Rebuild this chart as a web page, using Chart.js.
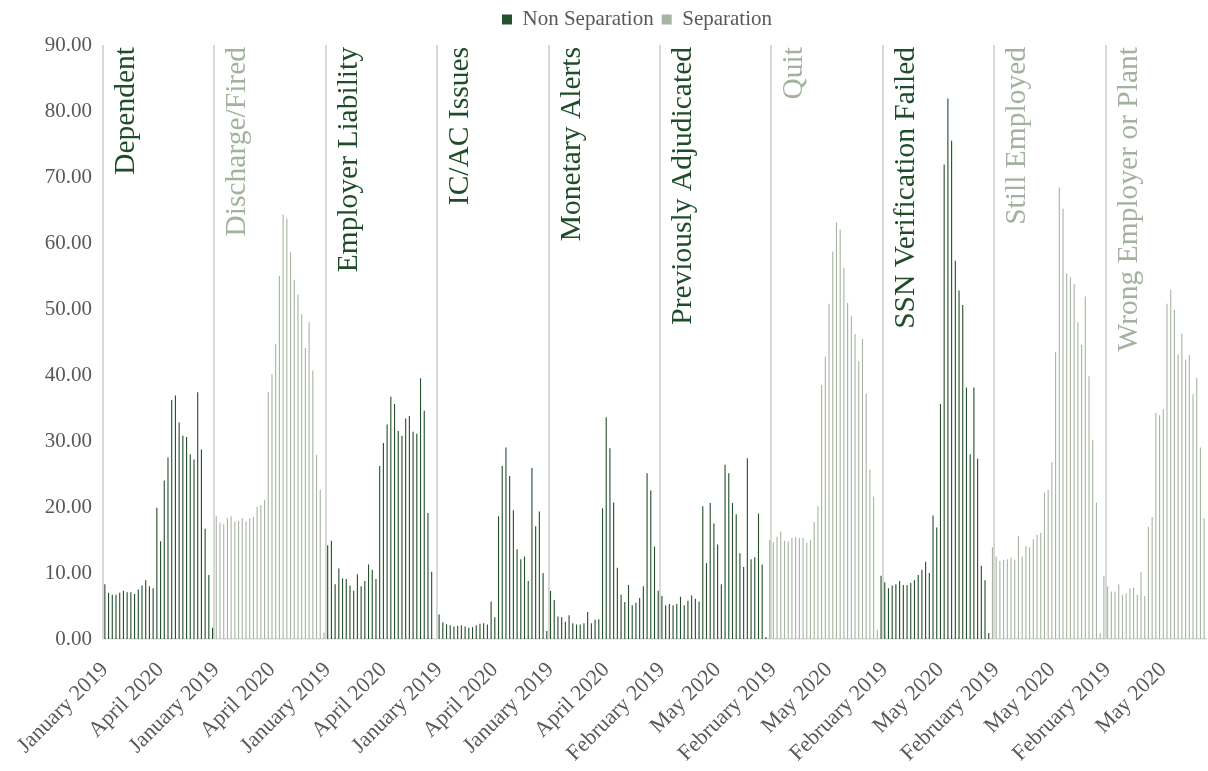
<!DOCTYPE html>
<html><head><meta charset="utf-8">
<script src="https://cdn.jsdelivr.net/npm/chart.js@4.4.1/dist/chart.umd.min.js"></script>
<style>html,body{margin:0;padding:0;background:#fff;overflow:hidden}#wrap{width:1208px;height:771px;position:relative}</style>
</head><body><div id="wrap"><canvas id="c"></canvas></div>
<script>
const MONTHS = ['January','February','March','April','May','June','July','August','September','October','November','December'];
const seriesNames = ['Non Separation', 'Separation'];
const seriesColors = ['#24502c', '#a7b5a2'];
const panelNames = ['Dependent','Discharge/Fired','Employer Liability','IC/AC Issues','Monetary Alerts','Previously Adjudicated','Quit','SSN Verification Failed','Still Employed','Wrong Employer or Plant'];
const panelSeries = [0,1,0,0,0,0,1,0,1,1];
const panelStartMonth = [0,0,0,0,0,1,0,0,0,0]; // months after January 2019
const tickLabelEvery = 15;
const gridEvery = 30;

const dependent = [8.3,7.0,6.7,6.7,7.0,7.3,7.1,7.1,6.8,7.5,8.1,8.9,8.0,7.7,19.9,14.8,24.0,27.5,36.2,36.9,32.8,30.8,30.6,28.0,27.2,37.4,28.7,16.7,9.7,1.7];
const dischargeFired = [18.6,17.6,17.4,18.3,18.6,17.8,17.9,18.3,17.8,18.3,18.5,20.0,20.3,21.1,37.4,40.1,44.7,55.0,64.3,63.7,58.6,54.4,52.2,49.2,44.1,48.0,40.7,27.9,22.6,1.0];
const employerLiability = [14.2,14.9,8.3,10.7,9.2,9.1,8.1,7.3,9.8,8.0,8.8,11.3,10.5,9.1,26.2,29.7,32.5,36.7,35.6,31.5,30.8,33.4,33.8,31.4,31.1,39.5,34.6,19.1,10.2,0];
const icacIssues = [3.7,2.5,2.2,2.1,1.9,2.0,2.1,1.9,1.7,1.8,2.1,2.3,2.4,2.2,5.7,3.3,18.6,26.2,29.0,24.7,19.5,13.6,12.1,12.5,8.8,25.9,17.1,19.3,10.0,1.2];
const monetaryAlerts = [7.3,5.9,3.4,3.3,2.6,3.6,2.4,2.2,2.2,2.4,4.1,2.4,2.9,3.0,19.8,33.6,28.9,20.7,10.8,6.7,5.6,8.2,5.1,5.5,6.2,8.0,25.1,22.5,14.0,7.3];
const previouslyAdjudicated = [6.5,5.1,5.3,5.1,5.3,6.4,5.1,5.8,6.6,6.1,5.7,20.1,11.5,20.6,17.5,14.3,8.3,26.4,25.1,20.6,18.9,13.0,10.9,27.4,12.1,12.4,19.0,11.3,0.3];
const quit = [15.0,14.7,15.5,16.3,14.9,14.8,15.3,15.4,15.3,15.3,14.6,15.0,17.7,20.1,38.5,42.8,50.8,58.7,63.1,62.0,56.2,50.9,48.9,46.2,42.1,45.5,37.2,25.7,21.6,1.4];
const ssnVerificationFailed = [9.6,8.6,7.7,8.1,8.3,8.8,8.2,8.2,8.5,8.9,9.7,10.5,11.7,10.0,18.7,16.9,35.6,71.9,81.9,75.5,57.3,52.8,50.6,38.1,28.0,38.1,27.3,11.1,8.9,0.9];
const stillEmployed = [13.9,12.5,11.8,12.0,12.1,12.3,12.0,15.6,12.5,14.1,13.9,15.1,15.8,16.1,22.2,22.6,26.8,43.5,68.4,65.2,55.4,54.8,53.8,48.0,44.6,51.9,39.8,30.1,20.7,0.9];
const wrongEmployerOrPlant = [9.6,8.0,7.2,7.2,8.3,6.7,6.9,7.7,7.8,6.7,10.1,6.5,17.0,18.5,34.3,33.9,34.8,50.8,52.9,49.9,43.1,46.3,42.3,43.0,37.1,39.6,29.0,18.3];

const panelValues = [dependent, dischargeFired, employerLiability, icacIssues, monetaryAlerts,
  previouslyAdjudicated, quit, ssnVerificationFailed, stillEmployed, wrongEmployerOrPlant];

const categories = [], nonSeparation = [], separation = [];
panelValues.forEach((vals, p) => {
  vals.forEach((v, i) => {
    const m = panelStartMonth[p] + i;
    categories.push(MONTHS[m % 12] + ' ' + (2019 + Math.floor(m / 12)));
    nonSeparation.push(panelSeries[p] === 0 ? v : null);
    separation.push(panelSeries[p] === 1 ? v : null);
  });
});

const FONT = "'Liberation Serif', 'Times New Roman', serif";

const panelLabelPlugin = {
  id: 'panelLabels',
  afterLayout(chart) {
    const lg = chart.legend;
    if (lg) { lg.left += 34; lg.right += 34; lg.top -= 5; lg.bottom -= 5; }
  },
  afterDatasetsDraw(chart) {
    const xs = chart.scales.x, area = chart.chartArea, ctx = chart.ctx;
    const half = (xs.getPixelForValue(1) - xs.getPixelForValue(0)) / 2;
    ctx.save();
    ctx.font = '29.5px ' + FONT;
    ctx.textAlign = 'right';
    ctx.textBaseline = 'alphabetic';
    panelNames.forEach((name, p) => {
      const x = xs.getPixelForValue(p * gridEvery) - half + 31;
      ctx.save();
      ctx.translate(x, area.top + 2);
      ctx.rotate(-Math.PI / 2);
      ctx.fillStyle = panelSeries[p] === 0 ? '#1f4d2a' : '#a3b29f';
      ctx.fillText(name, 0, 0);
      ctx.restore();
    });
    ctx.restore();
  }
};

new Chart(document.getElementById('c'), {
  type: 'bar',
  data: {
    labels: categories,
    datasets: [
      { label: seriesNames[0], data: nonSeparation, backgroundColor: seriesColors[0] },
      { label: seriesNames[1], data: separation, backgroundColor: seriesColors[1] }
    ]
  },
  options: {
    responsive: true,
    maintainAspectRatio: false,
    animation: false,
    devicePixelRatio: 1,
    datasets: { bar: { grouped: false, barPercentage: 0.3, categoryPercentage: 1.0 } },
    layout: { padding: { left: 0, right: 2, top: 6, bottom: 0 } },
    plugins: {
      legend: {
        position: 'top',
        labels: { font: { family: FONT, size: 21 }, color: '#595959', boxWidth: 10, boxHeight: 10, padding: 8 }
      },
      tooltip: { enabled: false }
    },
    scales: {
      x: {
        offset: true,
        grid: {
          offset: true,
          drawTicks: false,
          lineWidth: 2,
          color: ctx => (ctx.index % gridEvery === 0 ? '#d9d9d9' : 'rgba(0,0,0,0)')
        },
        border: { color: '#d9d9d9', width: 1.5 },
        ticks: {
          autoSkip: false, maxRotation: 45, minRotation: 45, padding: 18,
          font: { family: FONT, size: 22 }, color: '#595959',
          callback: (v, i) => (i % tickLabelEvery === 0 ? categories[i] : '')
        },
        afterFit: s => { s.height = 132; s.paddingLeft = 0; s.paddingRight = 0; }
      },
      y: {
        min: 0, max: 90,
        ticks: { stepSize: 10, padding: 3, font: { family: FONT, size: 21 }, color: '#595959', callback: v => v.toFixed(2) },
        grid: { display: false },
        border: { display: false },
        afterFit: s => { s.width = 103; s.paddingTop = 0; s.paddingBottom = 0; }
      }
    }
  },
  plugins: [panelLabelPlugin]
});
</script></body></html>
